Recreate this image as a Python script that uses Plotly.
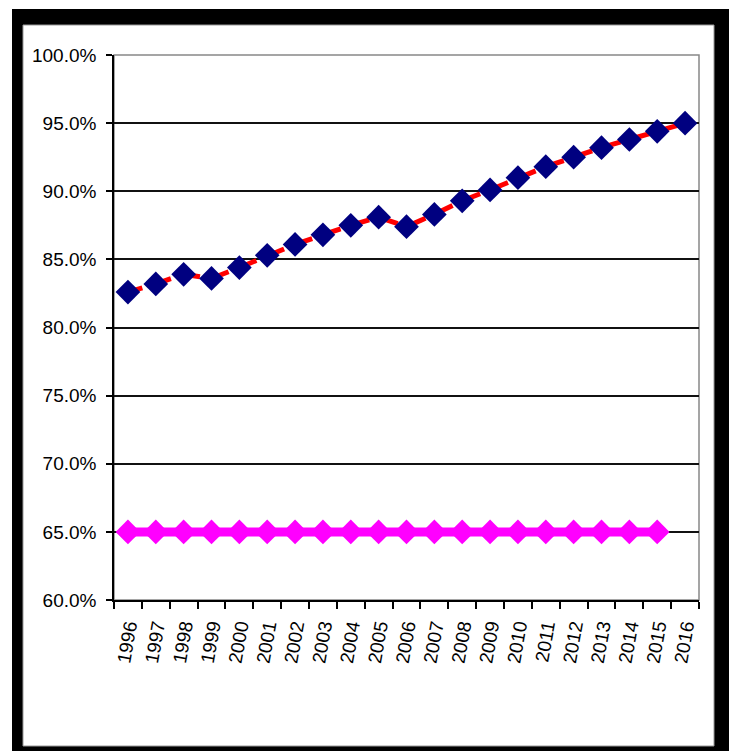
import plotly.graph_objects as go

years = [str(y) for y in range(1996, 2017)]
actual = [0.826, 0.832, 0.839, 0.836, 0.844, 0.853, 0.861, 0.868, 0.875, 0.881,
          0.874, 0.883, 0.893, 0.901, 0.910, 0.918, 0.925, 0.932, 0.938, 0.944, 0.950]
target_years = years[:20]
target = [0.65] * 20

W, H = 729, 751
L, R, T, B = 114, 699, 55, 600

def px(x):
    return (x - L) / (R - L)

def py(y):
    return (B - y) / (B - T)

fig = go.Figure()
fig.add_trace(go.Scatter(
    x=target_years, y=target, mode="lines+markers",
    line=dict(color="#ff00ff", width=9),
    marker=dict(symbol="diamond", size=19, color="#ff00ff"),
    showlegend=False, cliponaxis=False))
fig.add_trace(go.Scatter(
    x=years, y=actual, mode="lines+markers",
    line=dict(color="#ff0000", width=5, dash="dash"),
    marker=dict(symbol="diamond", size=19, color="#000080"),
    showlegend=False, cliponaxis=False))

shapes = [
    dict(type="rect", xref="paper", yref="paper", x0=px(12), x1=px(729), y0=py(9), y1=py(751),
         fillcolor="black", line=dict(width=0), layer="below"),
    dict(type="rect", xref="paper", yref="paper", x0=px(23), x1=px(714), y0=py(25), y1=py(746),
         fillcolor="white", line=dict(width=1, color="#999999"), layer="below"),
    dict(type="rect", xref="paper", yref="paper", x0=0, x1=1, y0=0, y1=1,
         fillcolor="rgba(0,0,0,0)", line=dict(width=1.5, color="#888888"), layer="below"),
]

fig.update_layout(
    width=W, height=H,
    margin=dict(l=L, r=W - R, t=T, b=H - B, autoexpand=False),
    paper_bgcolor="white", plot_bgcolor="#dfdfdf",
    font=dict(family="Liberation Sans, Arial, sans-serif", color="black", size=19),
    shapes=shapes,
    xaxis=dict(type="category", categoryorder="array", categoryarray=years,
               range=[-0.5, len(years) - 0.5],
               showgrid=False, showline=True, linecolor="black", linewidth=1.5,
               ticks="outside", tickson="boundaries", ticklen=7, tickcolor="black", tickwidth=1.5,
               tickangle=-80, tickfont=dict(size=19), ticklabelstandoff=6),
    yaxis=dict(range=[0.6, 1.0], dtick=0.05, tickformat=".1%",
               showgrid=True, gridcolor="#111111", gridwidth=1.7,
               showline=True, linecolor="black", linewidth=1.5,
               ticks="outside", ticklen=6, tickcolor="black", tickwidth=1.5,
               tickfont=dict(size=19), ticklabelstandoff=6, zeroline=False),
)

fig.write_html("out.html")
